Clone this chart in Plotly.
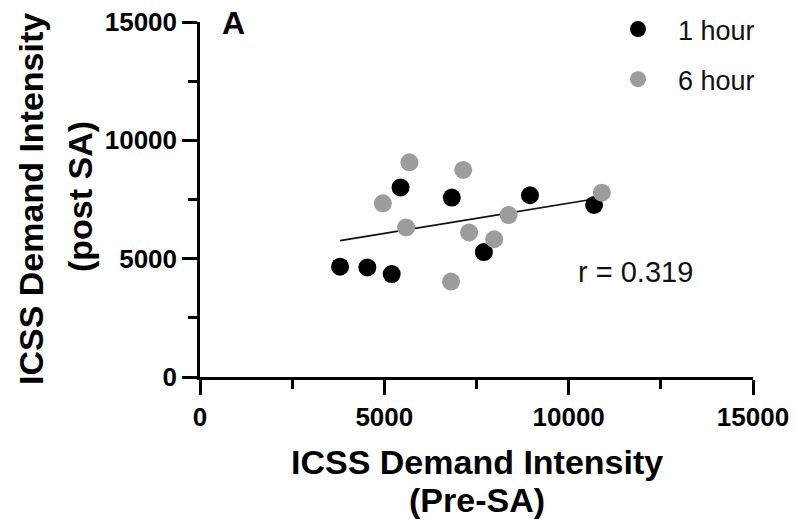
import numpy as np
import plotly.graph_objects as go

# Data
x_1h = [3800, 4540, 5200, 5440, 6830, 7700, 8950, 10690]
y_1h = [4660, 4630, 4350, 8010, 7580, 5280, 7680, 7270]
x_6h = [5680, 7140, 4960, 5590, 7300, 7980, 8370, 10900, 6810]
y_6h = [9070, 8750, 7340, 6320, 6110, 5820, 6840, 7790, 4030]
series_names = ["1 hour", "6 hour"]
tick_vals = [0, 5000, 10000, 15000]
tick_text = ["0", "5000", "10000", "15000"]
r_label = "r = 0.319"

FONT = "Liberation Sans, Arial, Helvetica, sans-serif"
W, H = 796, 521
L, R, T, B = 200, 43, 22, 144
PW, PH = W - L - R, H - T - B

def px(x):
    return (x - L) / PW

def py(y):
    return (H - B - y) / PH

# regression line over all points
xa = np.array(x_1h + x_6h, dtype=float)
ya = np.array(y_1h + y_6h, dtype=float)
slope, intercept = np.polyfit(xa, ya, 1)
lx = np.array([xa.min(), xa.max()])
ly = slope * lx + intercept

fig = go.Figure()
fig.add_trace(go.Scatter(x=lx, y=ly, mode="lines", line=dict(color="#111111", width=1.6),
                         showlegend=False, hoverinfo="skip"))
fig.add_trace(go.Scatter(x=x_1h, y=y_1h, mode="markers", name=series_names[0], legendgroup="a",
                         marker=dict(size=18, color="#000000", line=dict(width=0))))
fig.add_trace(go.Scatter(x=x_6h, y=y_6h, mode="markers", name=series_names[1], legendgroup="b",
                         marker=dict(size=18, color="#9c9c9c", line=dict(width=0))))

axis_common = dict(
    range=[0, 15000], tickmode="array", tickvals=tick_vals, ticktext=tick_text,
    showline=True, linecolor="black", linewidth=2.5, mirror=False,
    ticks="outside", ticklen=15, tickwidth=2.5, tickcolor="black",
    showgrid=False, zeroline=False, automargin=False,
    tickfont=dict(family=FONT, size=26, color="black", weight="bold"),
    minor=dict(dtick=2500, tick0=0, ticks="outside", ticklen=9, tickwidth=2.5, tickcolor="black", showgrid=False),
)
fig.update_xaxes(**axis_common)
fig.update_yaxes(**axis_common)

TS = 34
ann = []
# x title lines
ann.append(dict(text="ICSS Demand Intensity", x=px(477), y=py(462), xref="paper", yref="paper",
                showarrow=False, xanchor="center", yanchor="middle",
                font=dict(family=FONT, size=TS, color="black", weight="bold")))
ann.append(dict(text="(Pre-SA)", x=px(477), y=py(500), xref="paper", yref="paper",
                showarrow=False, xanchor="center", yanchor="middle",
                font=dict(family=FONT, size=TS, color="black", weight="bold")))
# y title lines
ann.append(dict(text="ICSS Demand Intensity", x=px(31), y=py(199), xref="paper", yref="paper",
                showarrow=False, xanchor="center", yanchor="middle", textangle=-90,
                font=dict(family=FONT, size=TS, color="black", weight="bold")))
ann.append(dict(text="(post SA)", x=px(80), y=py(197), xref="paper", yref="paper",
                showarrow=False, xanchor="center", yanchor="middle", textangle=-90,
                font=dict(family=FONT, size=TS, color="black", weight="bold")))
# panel label
ann.append(dict(text="A", x=px(233), y=py(23), xref="paper", yref="paper",
                showarrow=False, xanchor="center", yanchor="middle",
                font=dict(family=FONT, size=32, color="black", weight="bold")))
# r label
ann.append(dict(text=r_label, x=px(576), y=py(272), xref="paper", yref="paper",
                showarrow=False, xanchor="left", yanchor="middle",
                font=dict(family=FONT, size=29, color="#111111")))

fig.update_layout(
    width=W, height=H,
    margin=dict(l=L, r=R, t=T, b=B, pad=0, autoexpand=False),
    paper_bgcolor="white", plot_bgcolor="white",
    annotations=ann,
    showlegend=True,
    legend=dict(x=px(598), y=py(5), xanchor="left", yanchor="top",
                bgcolor="rgba(0,0,0,0)", borderwidth=0,
                font=dict(family=FONT, size=27, color="#111111"),
                itemwidth=70, traceorder="grouped", tracegroupgap=12,
                itemsizing="trace"),
)

fig.write_html("out.html")
